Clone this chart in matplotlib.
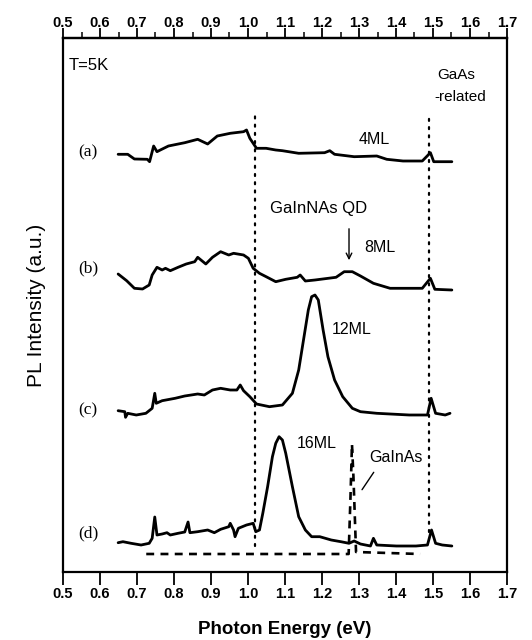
import matplotlib
matplotlib.use("Agg")
import matplotlib.pyplot as plt
from matplotlib.ticker import MultipleLocator, FixedLocator, NullLocator

# ---------------- data (photon energy in eV, PL intensity in a.u., offset traces) ----------------
energy_a = [0.649,0.675,0.693,0.728,0.734,0.745,0.754,0.763,0.785,0.829,0.864,0.891,0.917,0.952,0.988,0.996,1.005,1.023,1.049,1.075,1.093,1.137,1.207,1.221,1.234,1.287,1.348,1.375,1.419,1.471,1.493,1.502,1.515,1.551]
intensity_a = [417.7,417.7,413,412.7,410.3,426,420.3,422,426,429.3,432.7,428,436,438.7,440.3,442,433.7,423.7,423.7,422,421.3,418.7,419.3,421.3,417.7,415.3,416,412.7,411,411,419.3,410.3,410.3,410.3]

energy_b = [0.649,0.672,0.693,0.715,0.733,0.741,0.754,0.768,0.777,0.790,0.811,0.833,0.856,0.864,0.886,0.904,0.926,0.948,0.961,0.988,1.001,1.014,1.031,1.049,1.075,1.102,1.133,1.141,1.155,1.181,1.238,1.260,1.282,1.304,1.339,1.384,1.427,1.471,1.493,1.505,1.551]
intensity_b = [298,291.3,283.7,283,287,297,304.7,302,303.7,301.3,304.7,308,310.3,314.7,308,314.7,320.3,317,318.7,317,313.7,303.7,298.7,295.3,290.3,292.7,294.7,297,291,292,294.7,300.3,300.3,296,288.7,283.7,283.7,283.7,293.7,282.7,282]

energy_c = [0.649,0.667,0.669,0.675,0.698,0.724,0.741,0.748,0.752,0.768,0.803,0.829,0.864,0.882,0.904,0.926,0.952,0.970,0.979,0.988,1.005,1.023,1.058,1.093,1.120,1.137,1.150,1.163,1.172,1.181,1.190,1.203,1.216,1.234,1.256,1.282,1.304,1.348,1.436,1.485,1.495,1.507,1.533,1.546]
intensity_c = [161.3,160.3,154.7,158.7,157,158.7,163.7,178.7,168.7,171.3,173.7,176,178,177,182,183.7,182,182,187,181.3,175.3,168,165.3,167,178.7,202,232,262,275.3,277,272,242,215.3,192,175.3,163.7,160.3,158.7,157,157,173.7,158.7,157,158.7]

energy_d = [0.649,0.662,0.684,0.711,0.733,0.741,0.748,0.754,0.768,0.781,0.790,0.811,0.829,0.838,0.843,0.864,0.891,0.909,0.926,0.948,0.952,0.961,0.965,0.974,0.996,1.014,1.021,1.031,1.040,1.053,1.066,1.075,1.084,1.093,1.102,1.120,1.137,1.155,1.172,1.194,1.225,1.251,1.273,1.287,1.304,1.331,1.339,1.348,1.401,1.454,1.485,1.496,1.507,1.525,1.551]
intensity_d = [29.3,30.3,28.7,27,28.7,33.7,55,37,38,39.3,37,38.7,40,50,39.3,40.3,42,39.3,42.7,45.3,48.7,42,35.3,43.7,47,48.7,40.3,42,58.7,85.3,115.3,128.7,135.3,132,118.7,85.3,55.3,42,35.3,35.3,32,30.3,28.7,31,28,26,33.7,27,26,26,27,42,28.7,27,26]

energy_gainas = [0.725,1.272,1.277,1.281,1.285,1.292,1.465]
intensity_gainas = [18,18,75,128,95,20,18]

guide_energies = [1.02, 1.49]
guide_top = [457, 457]
guide_bottom = [26, 40]

xtick_values = [0.5,0.6,0.7,0.8,0.9,1.0,1.1,1.2,1.3,1.4,1.5,1.6,1.7]
xtick_labels = ["0.5","0.6","0.7","0.8","0.9","1.0","1.1","1.2","1.3","1.4","1.5","1.6","1.7"]

trace_labels = ["(a)", "(b)", "(c)", "(d)"]
trace_label_y = [420, 304, 162, 39]

# ---------------- figure ----------------
plt.rcParams['font.family'] = ['Liberation Sans', 'DejaVu Sans']
fig = plt.figure(figsize=(5.32, 6.4), dpi=100)
ax = fig.add_axes([63/532, 68/640, 444/532, 534/640])

lw = 2.0
for e, i in [(energy_a, intensity_a), (energy_b, intensity_b), (energy_c, intensity_c), (energy_d, intensity_d)]:
    ax.plot(e, i, color='black', lw=lw, solid_joinstyle='round', solid_capstyle='round')

ax.plot(energy_gainas, intensity_gainas, color='black', lw=1.9, linestyle=(0, (3.0, 2.4)))

for x, t, b in zip(guide_energies, guide_top, guide_bottom):
    ax.plot([x, x], [b, t], color='black', lw=1.6, linestyle=(0, (0.9, 2.8)), dash_capstyle='round')

ax.set_xlim(0.5, 1.7)
ax.set_ylim(0, 534)
ax.set_yticks([])

# bottom axis
ax.xaxis.set_major_locator(FixedLocator(xtick_values))
ax.set_xticklabels(xtick_labels, fontweight='bold')
ax.xaxis.set_minor_locator(NullLocator())
ax.tick_params(axis='x', which='major', direction='out', length=9, width=1.3,
               labelsize=10.5, pad=2)

# top axis
top = ax.secondary_xaxis('top')
top.xaxis.set_major_locator(FixedLocator(xtick_values))
top.set_xticklabels(xtick_labels, fontweight='bold')
top.xaxis.set_minor_locator(MultipleLocator(0.05))
top.tick_params(axis='x', which='major', direction='out', length=7, width=1.3,
                labelsize=10.5, pad=-1)
top.tick_params(axis='x', which='minor', direction='out', length=4, width=1.1)
top.spines['top'].set_linewidth(1.6)

for s in ax.spines.values():
    s.set_linewidth(1.6)

ax.set_xlabel("Photon Energy (eV)", fontsize=13.5, fontweight='bold', labelpad=14)
ax.set_ylabel("PL Intensity (a.u.)", fontsize=15, labelpad=12)

# trace labels
for lab, y in zip(trace_labels, trace_label_y):
    ax.text(0.568, y, lab, fontsize=12.5, family=['Liberation Serif', 'DejaVu Serif'],
            ha='center', va='center')

ax.text(0.514, 507, "T=5K", fontsize=12, ha='left', va='center')
ax.text(1.511, 497, "GaAs", fontsize=11, ha='left', va='center')
ax.text(1.505, 475, "-related", fontsize=11, ha='left', va='center')
ax.text(1.342, 432, "4ML", fontsize=11.5, ha='center', va='center')
ax.text(1.192, 364, "GaInNAs QD", fontsize=12, ha='center', va='center')
ax.annotate("", xy=(1.273, 309), xytext=(1.273, 346),
            arrowprops=dict(arrowstyle='->', lw=1.0, color='black'))
ax.text(1.357, 325, "8ML", fontsize=11.5, ha='center', va='center')
ax.text(1.28, 242, "12ML", fontsize=11.5, ha='center', va='center')
ax.text(1.186, 129, "16ML", fontsize=11.5, ha='center', va='center')
ax.text(1.399, 115, "GaInAs", fontsize=11.5, ha='center', va='center')
ax.annotate("", xy=(1.304, 80), xytext=(1.344, 102),
            arrowprops=dict(arrowstyle='-', lw=1.0, color='black'))

fig.savefig("out.png", dpi=100)
